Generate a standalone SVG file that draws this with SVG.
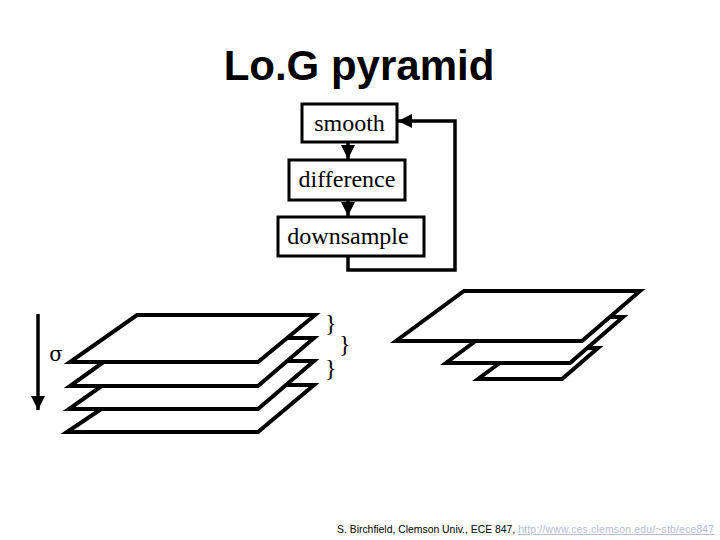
<svg xmlns="http://www.w3.org/2000/svg" width="720" height="540" viewBox="0 0 720 540">
<style>
.box{fill:#fff;stroke:#000;stroke-width:3}
.lbl{font-family:"Liberation Serif","Times New Roman",serif;font-size:24px;fill:#000;text-anchor:middle}
.layer{fill:#fff;stroke:#000;stroke-width:4;stroke-linejoin:miter}
.conn{fill:none;stroke:#000;stroke-width:3.5}
.brace{font-family:"Liberation Serif","Times New Roman",serif;font-size:24px;fill:#000}
</style>
<defs>
<marker id="ah" viewBox="0 0 10 10" refX="10" refY="5" markerWidth="4" markerHeight="4" markerUnits="strokeWidth" orient="auto">
<path d="M0,0 L10,5 L0,10 Z" fill="#000"/>
</marker>
</defs>
<rect width="720" height="540" fill="#fff"/>
<text x="359" y="80" font-family="Liberation Sans, Arial, sans-serif" font-weight="bold" font-size="42" text-anchor="middle">Lo.G pyramid</text>
<g id="connectors">
<line class="conn" x1="348" y1="142" x2="348" y2="159" marker-end="url(#ah)"/>
<line class="conn" x1="348" y1="200" x2="348" y2="216" marker-end="url(#ah)"/>
<polyline class="conn" points="348,256 348,270 455,270 455,121 398,121" marker-end="url(#ah)"/>
<line class="conn" x1="38" y1="314" x2="38" y2="410" marker-end="url(#ah)"/>
</g>
<g id="smooth"><rect class="box" x="302" y="104" width="95" height="38"/><text class="lbl" x="349.5" y="131">smooth</text></g>
<g id="difference"><rect class="box" x="289" y="160" width="116" height="40"/><text class="lbl" x="347" y="187">difference</text></g>
<g id="downsample"><rect class="box" x="278" y="217" width="146" height="39"/><text class="lbl" x="348" y="244">downsample</text></g>
<g id="stack-left">
<polygon class="layer" points="137,385 314,385 258,432 67,432"/>
<polygon class="layer" points="137,361 314,361 258,409 69,409"/>
<polygon class="layer" points="137,338 314,338 258,386 70,386"/>
<polygon class="layer" points="137,315 315,315 258,362 70,362"/>
</g>
<g id="sigma"><text x="56" y="361" font-family="DejaVu Serif, serif" font-size="20" text-anchor="middle">σ</text></g>
<g id="braces">
<text class="brace" x="325" y="331">}</text>
<text class="brace" x="339" y="352">}</text>
<text class="brace" x="325" y="376">}</text>
</g>
<g id="stack-right">
<polygon class="layer" points="520,348 598,348 562,379 478,379"/>
<polygon class="layer" points="508,317 623,317 570,363 446,363"/>
<polygon class="layer" points="464,291 640,291 582,341 396,341"/>
</g>
<g id="footer">
<text x="337" y="533" font-family="Liberation Sans, Arial, sans-serif" font-size="10.4" fill="#000">S. Birchfield, Clemson Univ., ECE 847, <tspan fill="#b4bcd4" text-decoration="underline" letter-spacing="0.2">http://www.ces.clemson.edu/~stb/ece847</tspan></text>
</g>
</svg>
